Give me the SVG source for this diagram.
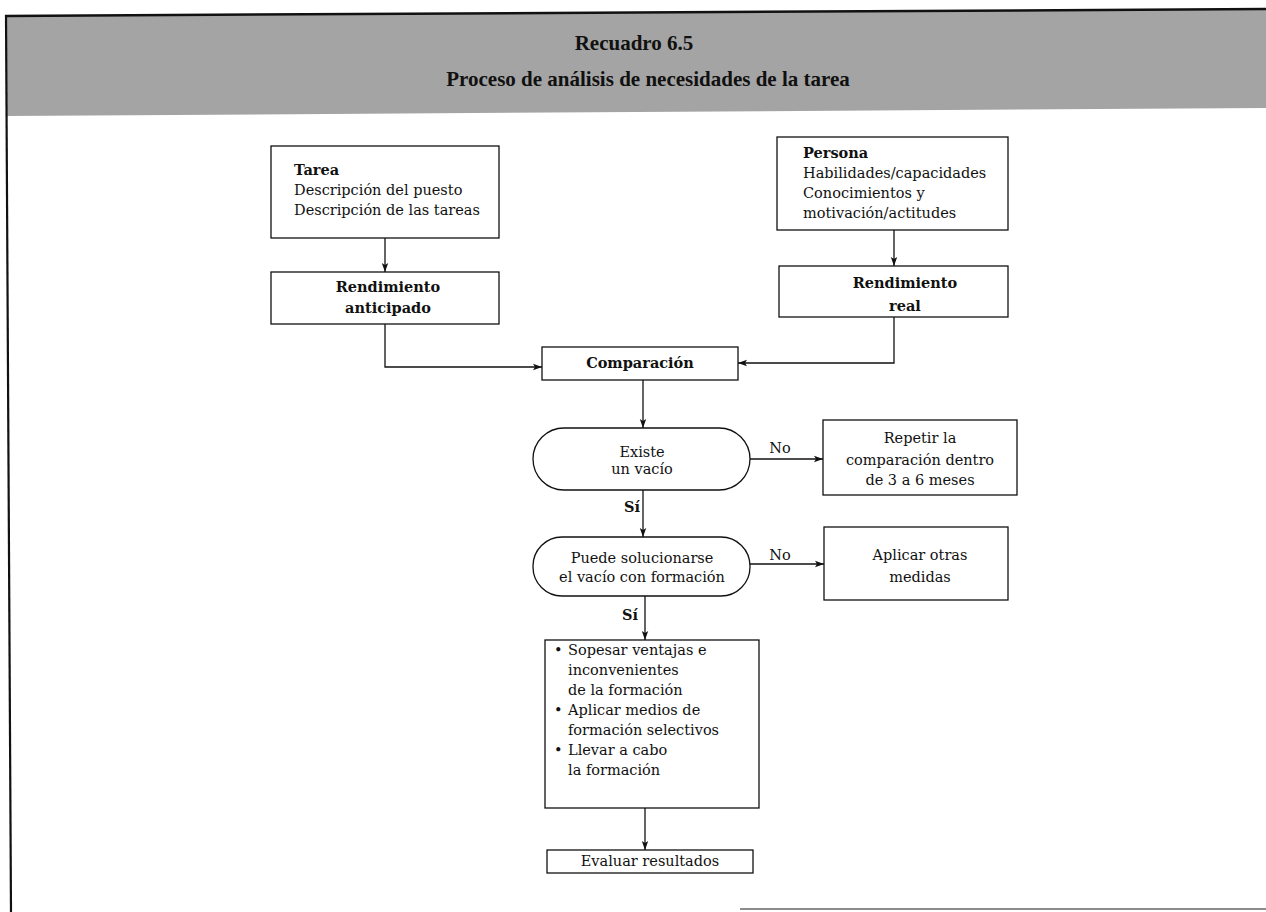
<svg xmlns="http://www.w3.org/2000/svg" width="1266" height="912" viewBox="0 0 1266 912">
<style>
.box{fill:#fff;stroke:#111;stroke-width:1.3}
.t{font-family:"DejaVu Serif","Liberation Serif",serif;font-size:14.5px;fill:#111}
.b{font-weight:bold}
.c{text-anchor:middle}
.ttl{font-family:"Liberation Serif","DejaVu Serif",serif;font-size:21px;font-weight:bold;fill:#111;text-anchor:middle}
.ln{fill:none;stroke:#111;stroke-width:1.3}
</style>
<defs>
<marker id="ah" markerWidth="10" markerHeight="8" refX="9" refY="4" orient="auto" markerUnits="userSpaceOnUse">
<path d="M0,0.8 L9,4 L0,7.2 L2,4 z" fill="#111"/>
</marker>
</defs>
<rect x="0" y="0" width="1266" height="912" fill="#fff"/>
<g id="frame">
<polygon points="6,16 1266,9 1266,108 6,116" fill="#a4a4a4"/>
<line x1="5" y1="16" x2="1266" y2="9" stroke="#111" stroke-width="2.5"/>
<line x1="6" y1="15" x2="11" y2="912" stroke="#111" stroke-width="2.2"/>
<line x1="740" y1="909" x2="1266" y2="909" stroke="#666" stroke-width="1.5"/>
<text class="ttl" x="634" y="50">Recuadro 6.5</text>
<text class="ttl" x="648" y="86">Proceso de análisis de necesidades de la tarea</text>
</g>
<g id="connectors">
<line class="ln" x1="385" y1="238" x2="385" y2="272" marker-end="url(#ah)"/>
<line class="ln" x1="894" y1="230" x2="894" y2="266" marker-end="url(#ah)"/>
<polyline class="ln" points="385,324 385,367 542,367" marker-end="url(#ah)"/>
<polyline class="ln" points="894,317 894,363 738,363" marker-end="url(#ah)"/>
<line class="ln" x1="643" y1="380" x2="643" y2="428" marker-end="url(#ah)"/>
<line class="ln" x1="750" y1="459" x2="823" y2="459" marker-end="url(#ah)"/>
<line class="ln" x1="643" y1="490" x2="643" y2="537" marker-end="url(#ah)"/>
<line class="ln" x1="750" y1="564" x2="824" y2="564" marker-end="url(#ah)"/>
<line class="ln" x1="645" y1="596" x2="645" y2="640" marker-end="url(#ah)"/>
<line class="ln" x1="645" y1="808" x2="645" y2="850" marker-end="url(#ah)"/>
<text class="t" x="780" y="453" text-anchor="middle">No</text>
<text class="t" x="780" y="560" text-anchor="middle">No</text>
<text class="t b" x="632" y="512" text-anchor="middle">Sí</text>
<text class="t b" x="630" y="620" text-anchor="middle">Sí</text>
</g>
<g id="tarea">
<rect class="box" x="271" y="146" width="228" height="92"/>
<text class="t b" x="294" y="175">Tarea</text>
<text class="t" x="294" y="195">Descripción del puesto</text>
<text class="t" x="294" y="215">Descripción de las tareas</text>
</g>
<g id="persona">
<rect class="box" x="777" y="137" width="231" height="93"/>
<text class="t b" x="803" y="158">Persona</text>
<text class="t" x="803" y="178">Habilidades/capacidades</text>
<text class="t" x="803" y="198">Conocimientos y</text>
<text class="t" x="803" y="218">motivación/actitudes</text>
</g>
<g id="rend-anticipado">
<rect class="box" x="271" y="272" width="228" height="52"/>
<text class="t b c" x="388" y="292">Rendimiento</text>
<text class="t b c" x="388" y="313">anticipado</text>
</g>
<g id="rend-real">
<rect class="box" x="779" y="266" width="229" height="51"/>
<text class="t b c" x="905" y="288">Rendimiento</text>
<text class="t b c" x="905" y="311">real</text>
</g>
<g id="comparacion">
<rect class="box" x="542" y="347" width="196" height="33"/>
<text class="t b c" x="640" y="368">Comparación</text>
</g>
<g id="existe-vacio">
<rect class="box" x="533" y="428" width="217" height="62" rx="31" ry="31"/>
<text class="t c" x="642" y="457">Existe</text>
<text class="t c" x="642" y="474">un vacío</text>
</g>
<g id="repetir">
<rect class="box" x="823" y="420" width="194" height="75"/>
<text class="t c" x="920" y="443">Repetir la</text>
<text class="t c" x="920" y="465">comparación dentro</text>
<text class="t c" x="920" y="485">de 3 a 6 meses</text>
</g>
<g id="puede-solucionarse">
<rect class="box" x="533" y="537" width="217" height="59" rx="29" ry="29"/>
<text class="t c" x="642" y="563">Puede solucionarse</text>
<text class="t c" x="642" y="582">el vacío con formación</text>
</g>
<g id="aplicar-otras">
<rect class="box" x="824" y="527" width="184" height="73"/>
<text class="t c" x="920" y="560">Aplicar otras</text>
<text class="t c" x="920" y="582">medidas</text>
</g>
<g id="formacion">
<rect class="box" x="545" y="640" width="214" height="168"/>
<text class="t" x="554" y="655">•</text>
<text class="t" x="568" y="655">Sopesar ventajas e</text>
<text class="t" x="568" y="675">inconvenientes</text>
<text class="t" x="568" y="695">de la formación</text>
<text class="t" x="554" y="715">•</text>
<text class="t" x="568" y="715">Aplicar medios de</text>
<text class="t" x="568" y="735">formación selectivos</text>
<text class="t" x="554" y="755">•</text>
<text class="t" x="568" y="755">Llevar a cabo</text>
<text class="t" x="568" y="775">la formación</text>
</g>
<g id="evaluar">
<rect class="box" x="547" y="850" width="206" height="23"/>
<text class="t c" x="650" y="866">Evaluar resultados</text>
</g>
</svg>
